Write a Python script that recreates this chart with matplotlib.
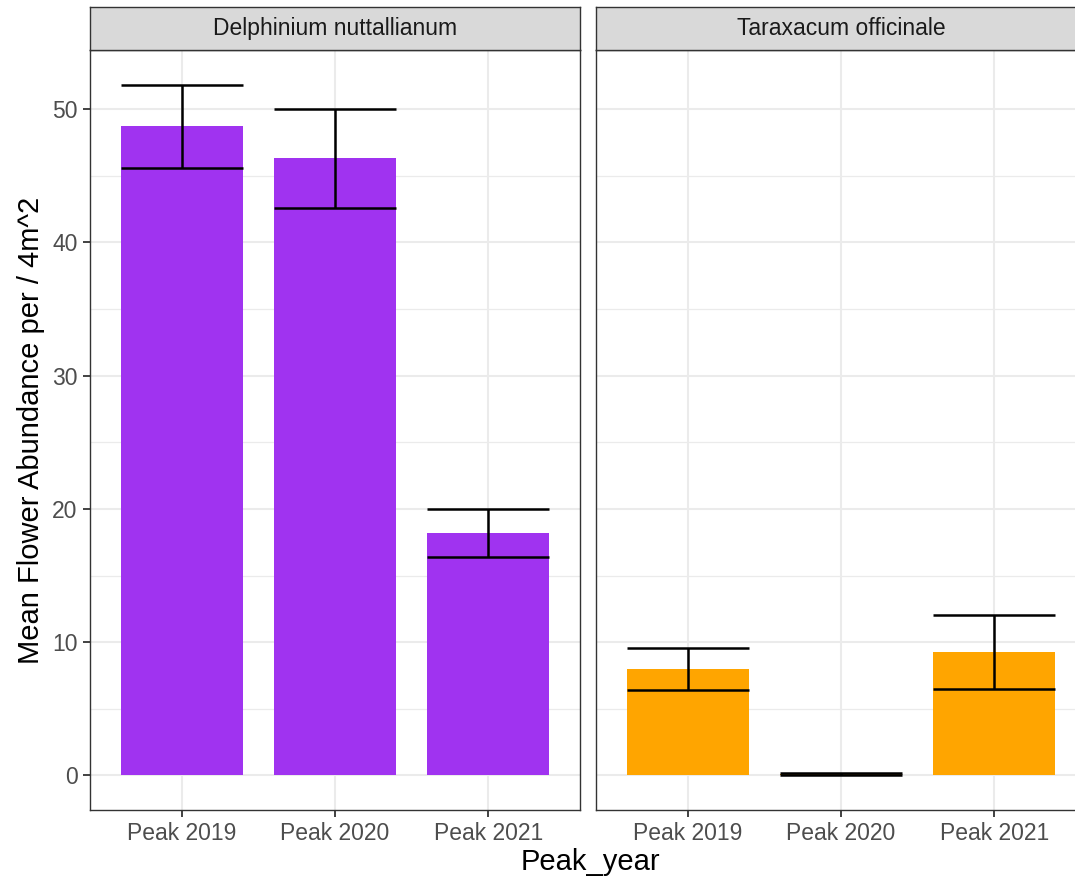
import numpy as np
import matplotlib
matplotlib.use("Agg")
import matplotlib.pyplot as plt

plt.rcParams['font.family'] = ['Liberation Sans', 'DejaVu Sans']

years = ["Peak 2019", "Peak 2020", "Peak 2021"]
species = ["Delphinium nuttallianum", "Taraxacum officinale"]
colors = ["#A033F0", "#FFA500"]

# mean flower count per 4 m^2 plot and its standard error
delph_mean = [48.7, 46.3, 18.2]
delph_se = [3.15, 3.68, 1.8]
tarax_mean = [7.98, 0.1, 9.27]
tarax_se = [1.58, 0.05, 2.8]

means = [delph_mean, tarax_mean]
ses = [delph_se, tarax_se]

W, H = 1075, 884
fig = plt.figure(figsize=(W / 100, H / 100), dpi=100)

grid_col = "#EBEBEB"
frame_col = "#333333"
text_col = "#4D4D4D"

ymin, ymax = -2.59, 54.44
panel_left = [90, 596]
panel_w = 490
panel_top, panel_bot = 50, 810
strip_top = 7

for i, sp in enumerate(species):
    x0 = panel_left[i] / W
    ax = fig.add_axes([x0, (H - panel_bot) / H, panel_w / W, (panel_bot - panel_top) / H])
    x = np.arange(len(years))
    m = np.array(means[i])
    s = np.array(ses[i])

    ax.set_xlim(-0.6, 2.6)
    ax.set_ylim(ymin, ymax)

    # grid
    for v in range(0, 51, 10):
        ax.axhline(v, color=grid_col, lw=1.5, zorder=0)
    for v in range(5, 50, 10):
        ax.axhline(v, color=grid_col, lw=0.9, zorder=0)
    for xx in x:
        ax.axvline(xx, color=grid_col, lw=1.5, zorder=0)

    ax.bar(x, m, width=0.8, color=colors[i], zorder=2)
    ax.hlines(m + s, x - 0.4, x + 0.4, color="black", lw=1.8, zorder=3)
    ax.hlines(m - s, x - 0.4, x + 0.4, color="black", lw=1.8, zorder=3)
    ax.vlines(x, m - s, m + s, color="black", lw=1.8, zorder=3)

    for side in ax.spines.values():
        side.set_color(frame_col)
        side.set_linewidth(1.0)

    ax.set_xticks(x)
    ax.set_xticklabels(years, fontsize=16.5, color=text_col)
    ax.tick_params(axis='x', length=5, width=1.3, color=frame_col, pad=4)
    if i == 0:
        ax.set_yticks(range(0, 51, 10))
        ax.tick_params(axis='y', labelsize=16.5, labelcolor=text_col,
                       length=5, width=1.3, color=frame_col, pad=4)
        ax.set_ylabel("Mean Flower Abundance per / 4m^2", fontsize=21, labelpad=5)
    else:
        ax.set_yticks([])

    # facet strip
    sax = fig.add_axes([x0, (H - panel_top) / H, panel_w / W, (panel_top - strip_top) / H])
    sax.set_facecolor("#D9D9D9")
    sax.set_xticks([])
    sax.set_yticks([])
    for side in sax.spines.values():
        side.set_color(frame_col)
        side.set_linewidth(1.0)
    sax.text(0.5, 0.5, sp, ha="center", va="center", fontsize=16.5,
             color="#1A1A1A", transform=sax.transAxes)

fig.text(590 / W, (H - 862) / H, "Peak_year", ha="center", va="center", fontsize=21)

fig.savefig("out.png", dpi=100)
